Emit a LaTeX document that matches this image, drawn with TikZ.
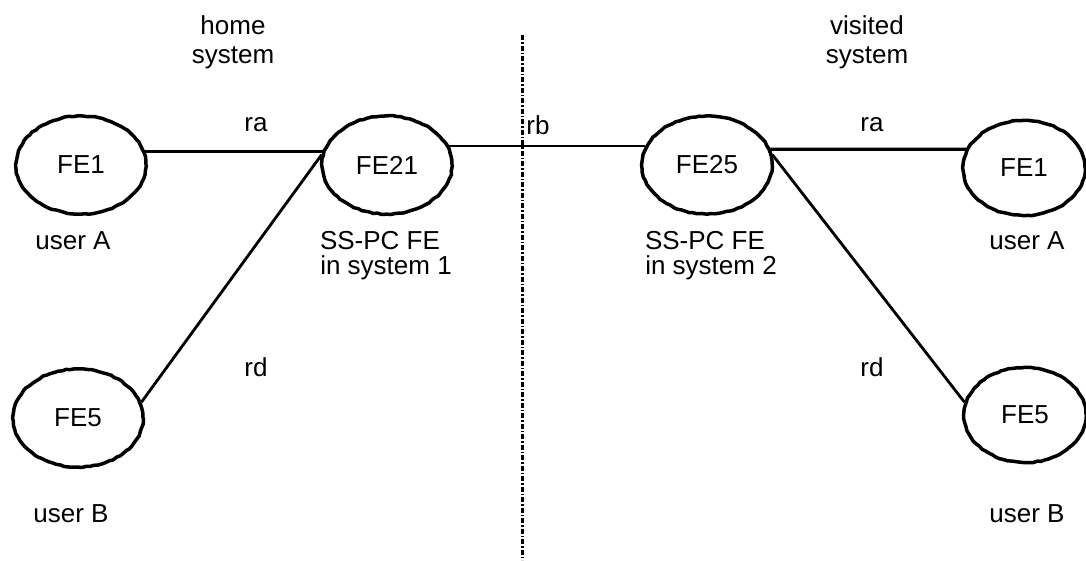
\documentclass[tikz,border=0pt]{standalone}
\usepackage{fontspec}
\setmainfont{Liberation Sans}
\usetikzlibrary{shapes.geometric,decorations.pathmorphing}
\begin{document}
\begin{tikzpicture}[x=1pt,y=-1pt,
  fe/.style={ellipse,draw,line width=3.5pt,minimum width=130pt,minimum height=98pt,inner sep=0pt,
    decorate,decoration={random steps,segment length=4pt,amplitude=0.5pt},
    font=\fontsize{26}{30}\selectfont},
  fer/.style={fe,minimum width=122pt,minimum height=95pt},
  lbl/.style={font=\fontsize{26}{33}\selectfont,align=center,inner sep=0pt},
  thickline/.style={line width=3.2pt},
  thinline/.style={line width=1.6pt},
  midline/.style={line width=2.8pt},
  sep/.style={line width=3pt,dash pattern=on 5pt off 2pt on 1.5pt off 2pt}]
\pgfmathsetseed{7}
\useasboundingbox (0,0) rectangle (1086,560);
\node[fe] (fe1a) at (81,165) {FE1};
\node[fe] (fe21) at (387,165) {FE21};
\node[fe] (fe25) at (707,165) {FE25};
\node[fer] (fe1b) at (1024,168) {FE1};
\node[fe] (fe5a) at (78,418) {FE5};
\node[fer] (fe5b) at (1025,415) {FE5};
% connectors
\draw[thickline] (fe1a.12) -- (fe21.168);
\draw[midline] (fe5a.14) -- (fe21.171);
\draw[thinline] (fe21.17) -- (fe25.163);
\draw[thickline] (fe25.14) -- (fe1b.162);
\draw[midline] (fe25.9) -- (fe5b.168);
% separator
\coordinate (septop) at (522,35);
\coordinate (sepbot) at (522,560);
\draw[sep] (septop) -- (sepbot);
% labels
\node[lbl] (home) at (233,25) {home};
\node[lbl] (homesys) at (233,58) {system};
\node[lbl] (vis) at (867,25) {visited};
\node[lbl] (vissys) at (867,58) {system};
\node[lbl] (raL) at (256,125) {ra};
\node[lbl] (raR) at (872,125) {ra};
\node[lbl] (rb) at (538,125) {rb};
\node[lbl] (rdL) at (256,367) {rd};
\node[lbl] (rdR) at (872,367) {rd};
\node[lbl] (uaL) at (73,241) {user A};
\node[lbl] (uaR) at (1027,241) {user A};
\node[lbl] (ubL) at (71,514) {user B};
\node[lbl] (ubR) at (1027,514) {user B};
\node[lbl] (ss1) at (380,241) {SS-PC FE};
\node[lbl] (in1) at (386,268) {in system 1};
\node[lbl] (ss2) at (705,241) {SS-PC FE};
\node[lbl] (in2) at (711,268) {in system 2};
\end{tikzpicture}
\end{document}
